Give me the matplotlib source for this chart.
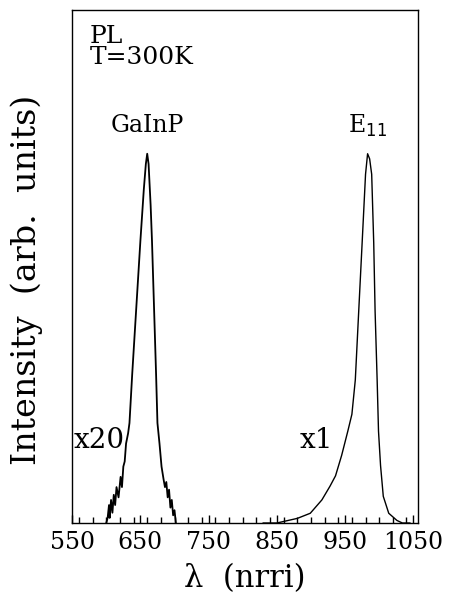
import numpy as np
import matplotlib
matplotlib.use("Agg")
import matplotlib.pyplot as plt
from matplotlib.ticker import MultipleLocator

plt.rcParams['font.family'] = ['DejaVu Serif']

# GaInP peak (x20)
gainp_nm = [600, 602, 604, 605, 607, 609, 611, 613, 615, 618, 621, 623, 625, 627, 629,
            632, 634, 638, 644, 650, 655, 658, 660, 662, 665, 667, 670, 673, 675, 678,
            681, 684, 686, 688, 690, 692, 694, 696, 698, 700, 702]
gainp_int = [0.0, 0.01, 0.035, 0.01, 0.045, 0.02, 0.055, 0.035, 0.07, 0.05, 0.09, 0.07, 0.11, 0.12, 0.155,
             0.175, 0.195, 0.29, 0.42, 0.55, 0.65, 0.70, 0.72, 0.70, 0.62, 0.55, 0.42, 0.29, 0.195, 0.155,
             0.11, 0.085, 0.07, 0.08, 0.05, 0.065, 0.03, 0.045, 0.015, 0.025, 0.0]

# E11 peak (x1)
e11_nm = [830, 850, 860, 880, 899, 916, 928, 936, 945, 954, 960, 965, 970, 975, 980, 983,
          986, 989, 992, 994, 997, 999, 1002, 1006, 1014, 1026, 1034, 1045]
e11_int = [0.0, 0.0, 0.003, 0.009, 0.019, 0.045, 0.072, 0.092, 0.132, 0.179, 0.212, 0.279, 0.413, 0.546, 0.68, 0.72,
           0.71, 0.68, 0.546, 0.413, 0.279, 0.179, 0.112, 0.052, 0.019, 0.005, 0.0, 0.0]

fig = plt.figure(figsize=(4.51, 5.95), dpi=100)
ax = fig.add_axes([0.160, 0.121, 0.767, 0.862])

ax.plot(gainp_nm, gainp_int, color='black', linewidth=1.3)
ax.plot(e11_nm, e11_int, color='black', linewidth=1.0)

ax.set_xlim(550, 1057)
ax.set_ylim(0, 1)
ax.set_xticks([550, 650, 750, 850, 950, 1050])
ax.xaxis.set_minor_locator(MultipleLocator(20))
ax.tick_params(axis='x', which='major', direction='in', length=6, width=1, labelsize=17, pad=6)
ax.tick_params(axis='x', which='minor', direction='in', length=4, width=1)
ax.set_yticks([])
for s in ax.spines.values():
    s.set_linewidth(1.0)

ax.set_xlabel('λ  (nrri)', fontsize=22)
ax.xaxis.set_label_coords(0.5, -0.078)
ax.set_ylabel('Intensity  (arb.  units)', fontsize=24)
ax.yaxis.set_label_coords(-0.084, 0.475)

ax.text(0.05, 0.971, 'PL\nT=300K', transform=ax.transAxes, fontsize=18,
        va='top', ha='left', linespacing=0.9)
ax.text(660, 0.775, 'GaInP', fontsize=17, ha='center', va='center')
ax.text(983, 0.775, 'E$_{11}$', fontsize=17, ha='center', va='center')
ax.text(590, 0.16, 'x20', fontsize=20, ha='center', va='center')
ax.text(908, 0.16, 'x1', fontsize=20, ha='center', va='center')

fig.savefig('out.png', dpi=100)
